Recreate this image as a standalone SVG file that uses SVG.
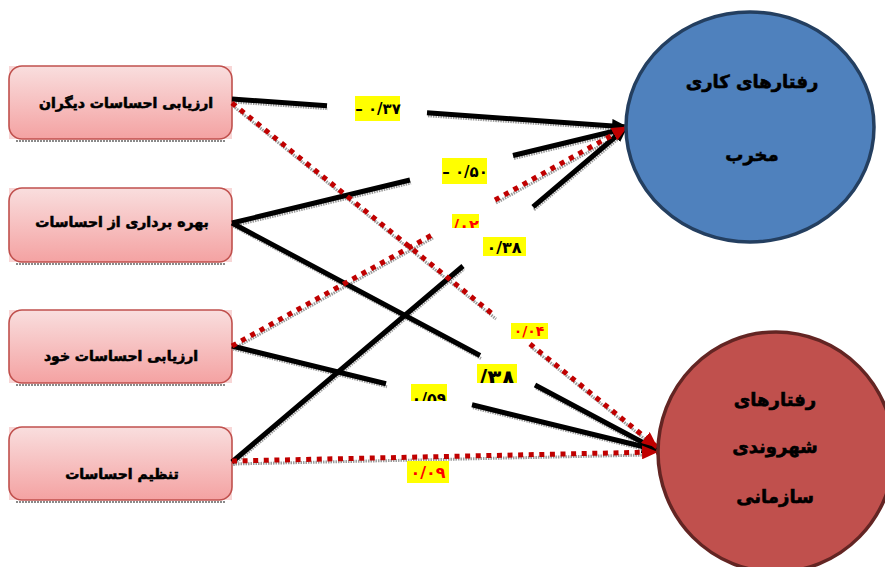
<svg xmlns="http://www.w3.org/2000/svg" width="885" height="567" viewBox="0 0 885 567">
  <style>
    .bg { fill: #f8d6d6; }
    .box { fill: url(#boxFill); stroke: #c0504d; stroke-width: 1.6; }
    .boxShadow { stroke: #8a8a8a; stroke-width: 2; stroke-dasharray: 2 1; fill: none; }
    .lbl { font-family: "DejaVu Sans", sans-serif; font-weight: bold; fill: #000; stroke: #000; stroke-width: 0.6; text-anchor: middle; }
    .num { font-family: "DejaVu Sans", sans-serif; font-weight: bold; text-anchor: middle; direction: ltr; unicode-bidi: bidi-override; }
    .hl { fill: #ffff00; }
    .solid { fill: none; stroke: #000; stroke-width: 5; marker-end: url(#arrowBlack); }
    .dotted { fill: none; stroke: #c00000; stroke-width: 5; stroke-dasharray: 5 5.6; marker-end: url(#arrowRed); }
    .shade { fill: none; stroke: #9a9a9a; stroke-width: 3; stroke-dasharray: 1.5 1; }
  </style>
  <defs>
    <linearGradient id="boxFill" x1="0" y1="0" x2="0" y2="1">
      <stop offset="0" stop-color="#f9dede"/>
      <stop offset="1" stop-color="#f4a2a2"/>
    </linearGradient>
    <marker id="arrowBlack" viewBox="0 0 16 14" refX="15" refY="7" markerWidth="16" markerHeight="14" markerUnits="userSpaceOnUse" orient="auto">
      <path d="M0,0 L16,7 L0,14 Z" fill="#000"/>
    </marker>
    <marker id="arrowRed" viewBox="0 0 16 14" refX="15" refY="7" markerWidth="16" markerHeight="14" markerUnits="userSpaceOnUse" orient="auto">
      <path d="M0,0 L16,7 L0,14 Z" fill="#c00000"/>
    </marker>
    <clipPath id="clip02"><rect x="452" y="214" width="27" height="14"/></clipPath>
    <clipPath id="clip38b"><rect x="477" y="364" width="40" height="19"/></clipPath>
    <clipPath id="clip59"><rect x="411" y="384" width="36" height="17"/></clipPath>
  </defs>

  <rect width="885" height="567" fill="#fff"/>

  <!-- source nodes -->
  <g id="node-evaluate-others">
    <rect class="bg" x="9" y="66" width="223" height="73"/>
    <line class="boxShadow" x1="16" y1="141" x2="225" y2="141"/>
    <rect class="box" x="9" y="66" width="223" height="73" rx="13"/>
    <text class="lbl" x="126" y="108" font-size="14">ارزیابی احساسات دیگران</text>
  </g>
  <g id="node-use-emotions">
    <rect class="bg" x="9" y="188" width="223" height="74"/>
    <line class="boxShadow" x1="16" y1="264" x2="225" y2="264"/>
    <rect class="box" x="9" y="188" width="223" height="74" rx="13"/>
    <text class="lbl" x="122" y="227" font-size="14">بهره برداری از احساسات</text>
  </g>
  <g id="node-evaluate-self">
    <rect class="bg" x="9" y="310" width="223" height="73"/>
    <line class="boxShadow" x1="16" y1="385" x2="225" y2="385"/>
    <rect class="box" x="9" y="310" width="223" height="73" rx="13"/>
    <text class="lbl" x="121" y="361" font-size="14">ارزیابی احساسات خود</text>
  </g>
  <g id="node-regulate">
    <rect class="bg" x="9" y="427" width="223" height="73"/>
    <line class="boxShadow" x1="16" y1="502" x2="225" y2="502"/>
    <rect class="box" x="9" y="427" width="223" height="73" rx="13"/>
    <text class="lbl" x="122" y="479" font-size="14">تنظیم احساسات</text>
  </g>

  <!-- connectors -->
  <g id="connectors">
    <g transform="translate(1,3)">
      <path class="shade" d="M232,99 L327,105.7 M427,112.8 L615,126"/>
      <path class="shade" d="M232,223 L410,180 M513,155.5 L615,131"/>
      <path class="shade" d="M232,223 L480,355.5 M535,385 L645,444"/>
      <path class="shade" d="M232,346 L386,383.7 M472,404.8 L645,447"/>
      <path class="shade" d="M232,462 L463,266 M533,206.8 L617,136"/>
      <path class="shade" d="M232,103 L495,316 M530,344 L645,437"/>
      <path class="shade" d="M232,346 L432,235 M495,200 L615,134"/>
      <path class="shade" d="M232,461 L645,452"/>
    </g>
    <path class="solid" d="M232,99 L327,105.7 M427,112.8 L627,127"/>
    <path class="solid" d="M232,223 L410,180 M513,155.5 L627,128"/>
    <path class="solid" d="M232,223 L480,355.5 M535,385 L657,450"/>
    <path class="solid" d="M232,346 L386,383.7 M472,404.8 L657,450"/>
    <path class="solid" d="M232,462 L463,266 M533,206.8 L627,127"/>
    <path class="dotted" d="M232,103 L495,316 M530,344 L657,447"/>
    <path class="dotted" d="M232,346 L432,235 M495,200 L627,127"/>
    <path class="dotted" d="M232,461 L657,452"/>
  </g>

  <!-- coefficient labels -->
  <g id="labels">
    <rect class="hl" x="355" y="96" width="45" height="25"/>
    <text class="num" x="378" y="114" font-size="15" fill="#000">– ۰/۳۷</text>

    <rect class="hl" x="442" y="158" width="45" height="26"/>
    <text class="num" x="465" y="177" font-size="15" fill="#000">– ۰/۵۰</text>

    <g clip-path="url(#clip02)">
      <rect class="hl" x="452" y="214" width="27" height="14"/>
      <text class="num" x="466" y="231" font-size="16" fill="#ff0000">/۰۲</text>
    </g>

    <rect class="hl" x="483" y="237" width="43" height="19"/>
    <text class="num" x="504" y="253" font-size="16" fill="#000">۰/۳۸</text>

    <rect class="hl" x="511" y="323" width="37" height="16"/>
    <text class="num" x="529" y="336" font-size="14" fill="#ff0000">۰/۰۴</text>

    <g clip-path="url(#clip38b)">
      <rect class="hl" x="477" y="364" width="40" height="19"/>
      <text class="num" x="497" y="386" font-size="23" fill="#000">/۳۸</text>
    </g>

    <g clip-path="url(#clip59)">
      <rect class="hl" x="411" y="384" width="36" height="17"/>
      <text class="num" x="429" y="404" font-size="16" fill="#000">۰/۵۹</text>
    </g>

    <rect class="hl" x="407" y="461" width="42" height="22"/>
    <text class="num" x="428" y="478" font-size="16" fill="#ff0000">۰/۰۹</text>
  </g>

  <!-- outcome nodes -->
  <g id="node-destructive">
    <ellipse cx="750" cy="127" rx="124" ry="115" fill="#4f81bd" stroke="#243f60" stroke-width="3.5"/>
    <text class="lbl" x="752" y="88" font-size="18">رفتارهای کاری</text>
    <text class="lbl" x="752" y="161" font-size="18">مخرب</text>
  </g>
  <g id="node-citizenship">
    <ellipse cx="776" cy="452" rx="118" ry="120" fill="#c0504d" stroke="#632523" stroke-width="3.5"/>
    <text class="lbl" x="775" y="406" font-size="18">رفتارهای</text>
    <text class="lbl" x="775" y="453" font-size="18">شهروندی</text>
    <text class="lbl" x="775" y="503" font-size="18">سازمانی</text>
  </g>
</svg>
